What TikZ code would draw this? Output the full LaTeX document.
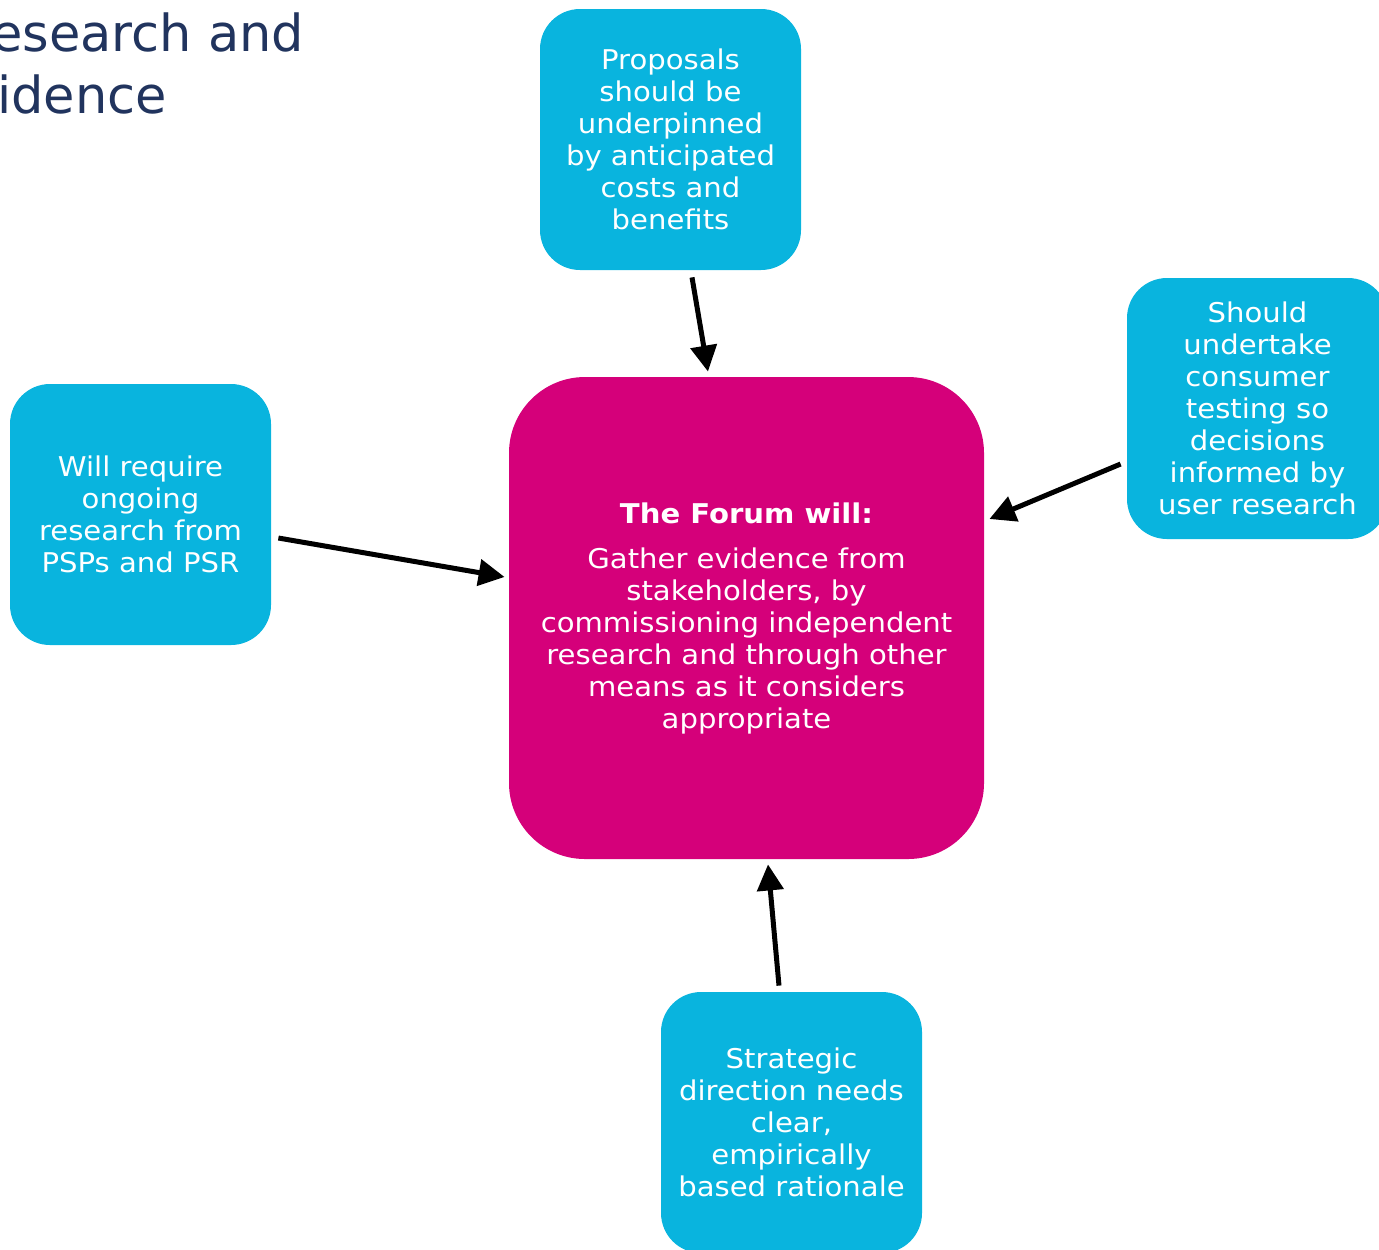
\documentclass[tikz,border=0pt]{standalone}
\usepackage{fontspec}
\setmainfont{DejaVu Sans}[FakeStretch=1.07]
\newfontfamily\headingfont{DejaVu Sans}
\usetikzlibrary{arrows.meta,calc}
\definecolor{boxblue}{RGB}{9,180,222}
\definecolor{forumpink}{RGB}{213,0,122}
\definecolor{titlenavy}{RGB}{33,52,94}
\begin{document}
\begin{tikzpicture}[x=0.5pt,y=-0.5pt,
  bluebox/.style={fill=boxblue, rounded corners=20pt, minimum width=130.5pt,
    minimum height=130.5pt, text=white, align=center, inner sep=0pt,
    font=\fontsize{13.6}{16}\selectfont},
  forumbox/.style={fill=forumpink, rounded corners=38pt, minimum width=237.5pt,
    minimum height=241pt, text=white, align=center, inner sep=0pt,
    font=\fontsize{13.6}{16}\selectfont},
  titletext/.style={text=titlenavy, inner sep=0pt, font=\headingfont\fontsize{25.5}{30}\selectfont},
  feed/.style={draw=black, line width=2.5pt, -{Triangle[length=13pt,width=13pt]}}]
\clip (0,0) rectangle (1379,1249);

% heading, running off the left edge
\node[titletext, anchor=base west] (title1) at (-9,51) {\llap{R}esearch and};
\node[titletext, anchor=base west] (title2) at (-3,113) {\llap{Ev}idence};

% central statement
\node[forumbox] (forum) at (746.5,618) {{\bfseries The Forum will:}\\[6.5pt]
  Gather evidence from\\stakeholders, by\\commissioning independent\\
  research and through other\\means as it considers\\appropriate};

% surrounding inputs
\node[bluebox] (top) at (670.5,139.5) {Proposals\\should be\\underpinned\\by anticipated\\costs and\\benefits};
\node[bluebox] (right) at (1257.5,408.5) {Should\\undertake\\consumer\\testing so\\decisions\\informed by\\user research};
\node[bluebox] (left) at (140.5,514.5) {Will require\\ongoing\\research from\\PSPs and PSR};
\node[bluebox] (bottom) at (791.5,1122.5) {Strategic\\direction needs\\clear,\\empirically\\based rationale};

% connectors into the central statement
\draw[feed] ($(top.south)+(21.5,7)$) -- ($(forum.north)+(-38.5,-5)$);
\draw[feed] ($(right.west)+(-6,55.5)$) -- ($(forum.east)+(5,-99)$);
\draw[feed] ($(left.east)+(7,23.5)$) -- ($(forum.west)+(-4,-41)$);
\draw[feed] ($(bottom.north)+(-12.5,-6)$) -- ($(forum.south)+(21.5,5)$);
\end{tikzpicture}
\end{document}
